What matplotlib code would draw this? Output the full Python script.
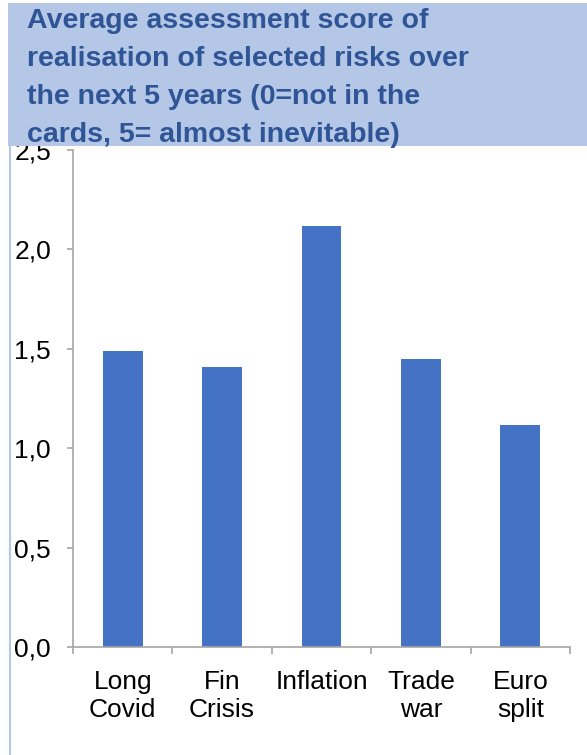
import matplotlib.pyplot as plt
from matplotlib.patches import Rectangle
from matplotlib.lines import Line2D

categories = ["Long\nCovid", "Fin\nCrisis", "Inflation", "Trade\nwar", "Euro\nsplit"]
scores = [1.49, 1.41, 2.12, 1.45, 1.117]
y_ticks = [0.0, 0.5, 1.0, 1.5, 2.0, 2.5]
y_labels = ["0,0", "0,5", "1,0", "1,5", "2,0", "2,5"]

title = ("Average assessment score of\nrealisation of selected risks over\n"
         "the next 5 years (0=not in the\ncards, 5= almost inevitable)")

plt.rcParams['font.family'] = ['Liberation Sans', 'DejaVu Sans']

W, H = 587, 755
fig = plt.figure(figsize=(W / 100, H / 100), dpi=100)
ax = fig.add_axes([73 / W, 1 - 647 / H, (570 - 73) / W, (647 - 150) / H])

x = list(range(len(categories)))
ax.bar(x, scores, width=0.4, color="#4472C4", zorder=2)

ax.set_xlim(-0.5, len(categories) - 0.5)
ax.set_ylim(0, 2.5)
ax.set_yticks(y_ticks)
ax.set_yticklabels(y_labels, fontsize=19)
ax.set_xticks(x)
ax.set_xticklabels(categories, fontsize=19, linespacing=1.22)
ax.set_xticks([i - 0.5 for i in range(len(categories) + 1)], minor=True)
ax.tick_params(axis="x", which="major", length=0, pad=16.5)
ax.tick_params(axis="x", which="minor", length=5, color="#A6A6A6", width=1.2)
ax.tick_params(axis="y", length=4.3, color="#A6A6A6", width=1.2, pad=11.5)

for side in ["top", "right"]:
    ax.spines[side].set_visible(False)
for side in ["left", "bottom"]:
    ax.spines[side].set_color("#A6A6A6")
    ax.spines[side].set_linewidth(1.2)

# title box over the top of the plot
fig.patches.append(Rectangle((8 / W, 1 - 146 / H), 1 - 8 / W, (146 - 3) / H,
                             transform=fig.transFigure, facecolor="#B4C7E7",
                             edgecolor="none", zorder=5))
fig.lines.append(Line2D([10 / W, 10 / W], [0, 1 - 146 / H], transform=fig.transFigure,
                        color="#B4C7E7", linewidth=1.5, zorder=5))
fig.text(27 / W, 1 - 8 / H, title, fontsize=20.5, fontweight="bold", color="#2F5597",
         ha="left", va="top", linespacing=1.6, zorder=6)

fig.savefig("out.png", dpi=100)
